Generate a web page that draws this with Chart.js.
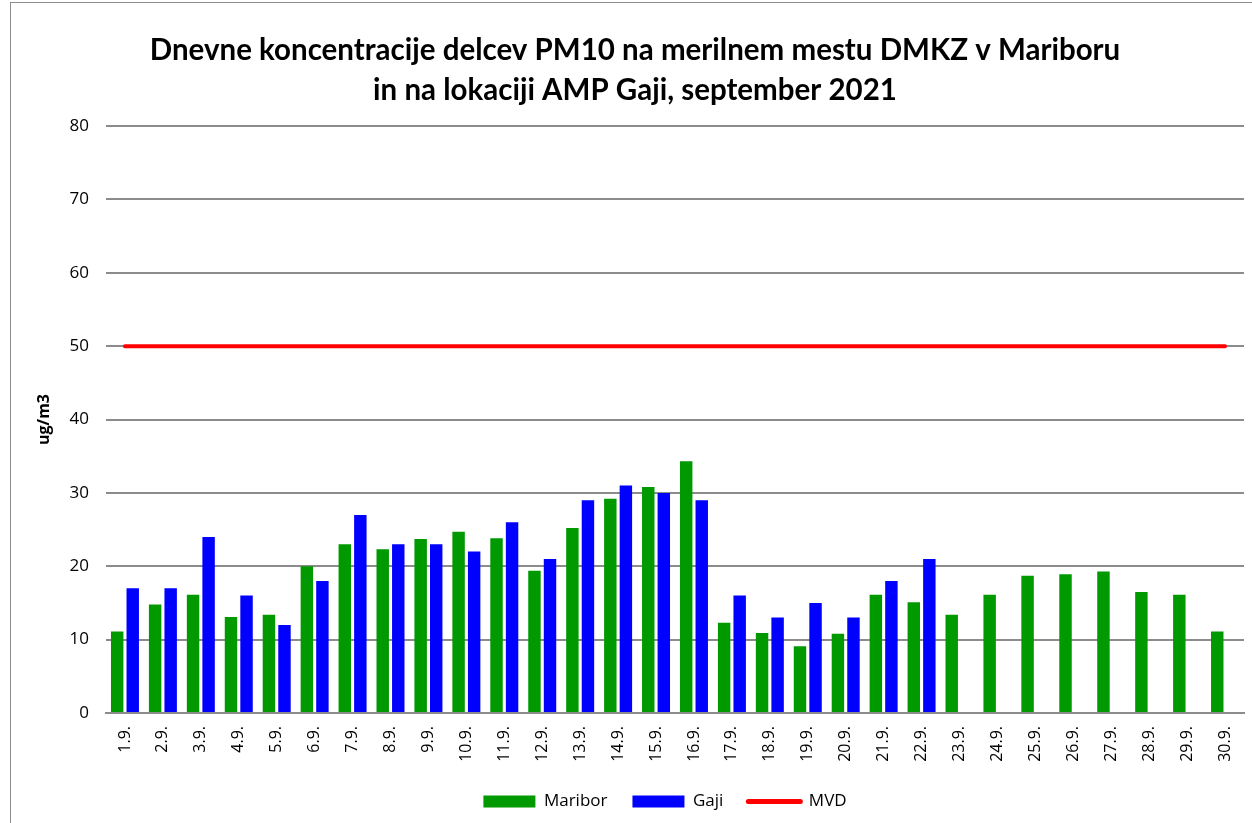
<!DOCTYPE html>
<html>
<head>
<meta charset="utf-8">
<script src="https://cdn.jsdelivr.net/npm/chart.js@4"></script>
<style>
    body { margin: 0; background: #fff; overflow: hidden; }
    #frame { position: absolute; left: 10px; top: 2px; width: 1260px; height: 840px; border: 1px solid #8c8c8c; }
    #wrap { position: absolute; left: 0; top: 0; width: 1252px; height: 823px; }
</style>
</head>
<body>
<div id="frame"></div>
<div id="wrap"><canvas id="pmChart"></canvas></div>
<script>
// Days of September 2021
const days = ['1.9.', '2.9.', '3.9.', '4.9.', '5.9.', '6.9.', '7.9.', '8.9.', '9.9.', '10.9.',
    '11.9.', '12.9.', '13.9.', '14.9.', '15.9.', '16.9.', '17.9.', '18.9.', '19.9.', '20.9.',
    '21.9.', '22.9.', '23.9.', '24.9.', '25.9.', '26.9.', '27.9.', '28.9.', '29.9.', '30.9.'];

// Daily PM10 values (ug/m3)
const maribor = [11.1, 14.8, 16.1, 13.1, 13.4, 20.0, 23.0, 22.3, 23.7, 24.7,
    23.8, 19.4, 25.2, 29.2, 30.8, 34.3, 12.3, 10.9, 9.1, 10.8,
    16.1, 15.1, 13.4, 16.1, 18.7, 18.9, 19.3, 16.5, 16.1, 11.1];
const gaji = [17, 17, 24, 16, 12, 18, 27, 23, 23, 22,
    26, 21, 29, 31, 30, 29, 16, 13, 15, 13,
    18, 21, null, null, null, null, null, null, null, null];

// Limit value (MVD)
const mvd = [50, 50, 50, 50, 50, 50, 50, 50, 50, 50,
    50, 50, 50, 50, 50, 50, 50, 50, 50, 50,
    50, 50, 50, 50, 50, 50, 50, 50, 50, 50];

const yTicks = { min: 0, max: 80, step: 10 };

Chart.defaults.font.family = '"Open Sans", Lato, sans-serif';
Chart.defaults.color = '#000';

const gridColor = '#8c8c8c';

// legend in the original sits a little right of centre
const legendShift = {
    id: 'legendShift',
    afterLayout(chart) {
        chart.legend.left += 30;
        chart.legend.right += 30;
    }
};

function drawChart() {
    const ctx = document.querySelector('#pmChart').getContext('2d');
    new Chart(ctx, {
        data: {
            labels: days,
            datasets: [
                {
                    type: 'bar',
                    label: 'Maribor',
                    data: maribor,
                    backgroundColor: '#009900',
                    categoryPercentage: 0.82,
                    barPercentage: 0.8
                },
                {
                    type: 'bar',
                    label: 'Gaji',
                    data: gaji,
                    backgroundColor: '#0000ff',
                    categoryPercentage: 0.82,
                    barPercentage: 0.8
                },
                {
                    type: 'line',
                    label: 'MVD',
                    data: mvd,
                    borderColor: '#ff0000',
                    backgroundColor: '#ff0000',
                    borderWidth: 4,
                    borderCapStyle: 'round',
                    pointRadius: 0
                }
            ]
        },
        options: {
            responsive: true,
            maintainAspectRatio: false,
            animation: false,
            layout: { padding: { left: 26, right: 8, top: 0, bottom: 3 } },
            plugins: {
                title: {
                    display: true,
                    text: ['Dnevne koncentracije delcev PM10 na merilnem mestu DMKZ v Mariboru',
                        'in na lokaciji AMP Gaji, september 2021'],
                    font: { family: 'Lato, sans-serif', size: 29.5, weight: 'bold', lineHeight: 40 / 29.5 },
                    padding: { top: 30, bottom: 16 },
                    color: '#000'
                },
                legend: {
                    position: 'bottom',
                    labels: {
                        usePointStyle: true,
                        pointStyleWidth: 52,
                        boxHeight: 12,
                        padding: 25,
                        font: { size: 17 },
                        generateLabels: function(chart) {
                            const items = Chart.defaults.plugins.legend.labels.generateLabels(chart);
                            items.forEach(item => {
                                if (item.datasetIndex === 2) {
                                    item.pointStyle = 'line';
                                    item.lineWidth = 5;
                                    item.lineCap = 'round';
                                } else {
                                    item.pointStyle = 'rect';
                                    item.lineWidth = 0;
                                }
                            });
                            return items;
                        }
                    }
                },
                tooltip: { enabled: false }
            },
            scales: {
                x: {
                    grid: { display: false, drawTicks: false },
                    border: { display: true, color: gridColor, width: 2 },
                    ticks: {
                        minRotation: 90,
                        maxRotation: 90,
                        padding: 13,
                        font: { size: 16 }
                    },
                    afterFit: function(axis) {
                        axis.height = 55;
                        axis.paddingLeft = 0;
                        axis.paddingRight = 0;
                    }
                },
                y: {
                    min: yTicks.min,
                    max: yTicks.max,
                    ticks: { stepSize: yTicks.step, padding: 17, font: { size: 17 } },
                    grid: { color: gridColor, lineWidth: 2, drawTicks: false },
                    border: { display: false },
                    title: {
                        display: true,
                        text: 'ug/m3',
                        font: { size: 16, weight: 'bold' },
                        padding: { top: 9, bottom: 0 }
                    },
                    afterFit: function(axis) { axis.width = 80; }
                }
            }
        },
        plugins: [legendShift]
    });
}

// wait for the installed fonts so the canvas text uses them
Promise.all([
    document.fonts.load('16px "Open Sans"'),
    document.fonts.load('bold 16px "Open Sans"'),
    document.fonts.load('bold 30px Lato')
]).then(drawChart, drawChart);
</script>
</body>
</html>
